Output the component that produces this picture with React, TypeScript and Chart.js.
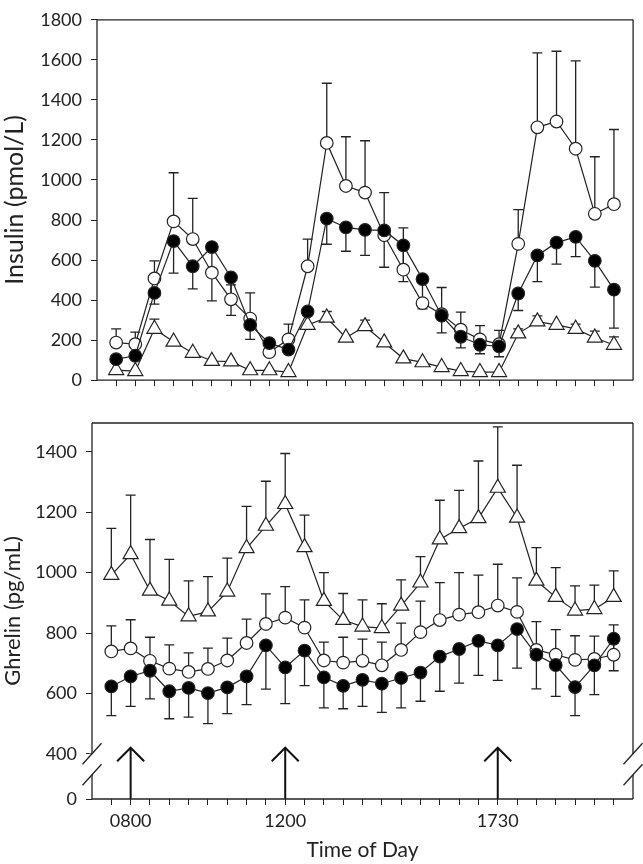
import { useEffect, useRef } from 'react';
import { Chart, registerables } from 'chart.js';

Chart.register(...registerables);

// ---------- data ----------
const times = ['0730', '0800', '0830', '0900', '0930', '1000', '1030', '1100', '1130', '1200', '1230', '1300', '1330', '1400',
  '1430', '1500', '1530', '1600', '1630', '1700', '1730', '1800', '1830', '1900', '1930', '2000', '2030'];
const labeledTimes = ['0800', '1200', '1730'];
const mealTimes = ['0800', '1200', '1730'];

const insulinFilled = [105, 122, 436, 695, 569, 665, 513, 276, 185, 153, 343, 807, 763, 751, 748, 673, 505, 322, 217, 177, 169, 433, 623, 687, 716, 596, 452];
const insulinFilledLow = [null, null, 380, 535, 456, 396, 324, 204, null, null, null, 679, 644, 623, 564, 492, 356, 236, 161, 132, 117, 348, 492, 580, 617, 465, 260];
const insulinOpen = [188, 180, 508, 793, 705, 537, 404, 308, 140, 204, 569, 1185, 970, 937, 724, 552, 385, 330, 252, 204, 180, 681, 1263, 1292, 1156, 831, 879];
const insulinOpenHigh = [256, 240, 596, 1036, 908, null, 476, 436, null, 280, 705, 1483, 1216, 1196, 937, 761, null, 463, 340, 273, 249, 852, 1635, 1643, 1595, 1116, 1252];
const insulinTri = [50, 45, 256, 192, 136, 96, 93, 49, 49, 40, 276, 312, 212, 269, 188, 108, 89, 65, 45, 40, 40, 233, 293, 276, 256, 212, 176];
const insulinTriHigh = [null, null, 305, null, null, null, null, null, null, null, null, 343, null, 300, null, null, null, null, null, null, null, 256, 321, null, 280, 245, 216];

const ghrelinFilled = [623, 656, 675, 607, 618, 601, 620, 656, 759, 686, 742, 653, 625, 645, 632, 651, 669, 722, 747, 774, 759, 813, 728, 694, 621, 693, 781];
const ghrelinFilledLow = [526, 557, 582, 516, 521, 500, 533, 563, 614, 566, 626, 552, 549, 557, 537, 552, 574, 607, 634, 660, 643, 684, 615, 590, 526, 596, 675];
const ghrelinOpen = [739, 749, 708, 682, 671, 681, 709, 767, 830, 851, 818, 709, 702, 708, 693, 744, 803, 843, 861, 869, 891, 870, 744, 728, 711, 714, 728];
const ghrelinOpenHigh = [824, 844, 786, 761, 734, 750, 783, 846, 930, 954, 910, 770, 786, 780, 770, 833, 906, 967, 1000, 992, 1028, 983, 838, 811, 791, 790, 827];
const ghrelinTri = [992, 1061, 940, 907, 855, 871, 937, 1081, 1155, 1227, 1084, 906, 843, 821, 816, 890, 967, 1110, 1147, 1180, 1281, 1182, 973, 919, 874, 879, 919];
const ghrelinTriHigh = [1147, 1257, 1110, 1044, 973, 987, 1048, 1220, 1303, 1395, 1191, 1000, 931, 910, 897, 976, 1053, 1240, 1273, 1370, 1483, 1356, 1083, 1017, 956, 959, 1006];

const insulinTicks = [0, 200, 400, 600, 800, 1000, 1200, 1400, 1600, 1800];
const ghrelinTicks = [400, 600, 800, 1000, 1200, 1400];
const ghrelinZeroAt = 250; // broken axis: where "0" sits
const ghrelinMax = 1496;
const arrowTip = 420;

// ---------- style ----------
const FONT = 'Lato, "Open Sans", sans-serif';
const INK = '#222';

const pts = (arr: (number | null)[]) => arr.map((v, i) => ({ x: i, y: v }));

function datasets(f: number[], fl: any[], o: number[], oh: any[], t: number[], th: any[]) {
  const common = { borderColor: INK, borderWidth: 1.2, pointBorderColor: INK, pointBorderWidth: 1.2, pointHoverRadius: 0 };
  return [
    { ...common, label: 'filled', data: pts(f), errEnd: fl, pointStyle: 'circle', pointRadius: 6.3, pointBackgroundColor: '#000' },
    { ...common, label: 'open', data: pts(o), errEnd: oh, pointStyle: 'circle', pointRadius: 6.3, pointBackgroundColor: '#fff' },
    { ...common, label: 'tri', data: pts(t), errEnd: th, pointStyle: 'triangle', pointRadius: 8.7, pointBackgroundColor: '#fff' },
  ];
}

const errorBars = {
  id: 'errorBars',
  beforeDatasetsDraw(chart: any) {
    const { ctx } = chart;
    const xs = chart.scales.x, ys = chart.scales.y;
    ctx.save();
    ctx.strokeStyle = INK;
    ctx.lineWidth = 1.3;
    chart.data.datasets.forEach((ds: any) => {
      const ends = ds.errEnd;
      if (!ends) return;
      ds.data.forEach((p: any, i: number) => {
        const e = ends[i];
        if (e == null || p.y == null) return;
        const px = xs.getPixelForValue(p.x), py = ys.getPixelForValue(p.y), pe = ys.getPixelForValue(e);
        ctx.beginPath();
        ctx.moveTo(px, py); ctx.lineTo(px, pe);
        ctx.moveTo(px - 5, pe); ctx.lineTo(px + 5, pe);
        ctx.stroke();
      });
    });
    ctx.restore();
  },
};

function framePlugin(breakValue: number | null, gap: number) {
  return {
    id: 'frame',
    afterDraw(chart: any) {
      const { ctx, chartArea } = chart;
      const { left, right, top, bottom } = chartArea;
      ctx.save();
      ctx.strokeStyle = INK;
      ctx.lineWidth = 1.3;
      const line = (x1: number, y1: number, x2: number, y2: number) => { ctx.beginPath(); ctx.moveTo(x1, y1); ctx.lineTo(x2, y2); ctx.stroke(); };
      line(left, top, right, top);
      line(left, bottom, right, bottom);
      if (breakValue == null) {
        line(left, top, left, bottom);
        line(right, top, right, bottom);
      } else {
        const y1 = chart.scales.y.getPixelForValue(breakValue);
        const y2 = y1 + gap;
        [left, right].forEach((xx: number) => {
          ctx.fillStyle = '#fff';
          ctx.fillRect(xx - 3, y1, 6, gap);
          line(xx, top, xx, y1);
          line(xx, y2, xx, bottom);
          line(xx - 9.5, y1 + 10.5, xx + 9.5, y1 - 10.5);
          line(xx - 9.5, y2 + 10.5, xx + 9.5, y2 - 10.5);
        });
      }
      ctx.restore();
    },
  };
}

const arrowsPlugin = {
  id: 'mealArrows',
  afterDatasetsDraw(chart: any) {
    const { ctx } = chart;
    const xs = chart.scales.x, ys = chart.scales.y;
    ctx.save();
    ctx.strokeStyle = '#111';
    ctx.lineWidth = 2;
    mealTimes.forEach((t) => {
      const px = xs.getPixelForValue(times.indexOf(t));
      const pb = ys.getPixelForValue(ghrelinZeroAt);
      const pt = ys.getPixelForValue(arrowTip);
      ctx.beginPath();
      ctx.moveTo(px, pb); ctx.lineTo(px, pt);
      ctx.moveTo(px - 13.5, pt + 13.5); ctx.lineTo(px, pt); ctx.lineTo(px + 13.5, pt + 13.5);
      ctx.stroke();
    });
    ctx.restore();
  },
};

function xScale(showLabels: boolean, height: number) {
  return {
    type: 'linear',
    min: -1,
    max: 27,
    afterBuildTicks: (s: any) => { s.ticks = times.map((_, i) => ({ value: i })); },
    afterFit: (s: any) => { s.height = height; },
    border: { display: false },
    grid: { drawOnChartArea: false, drawTicks: true, tickLength: 6, color: INK, lineWidth: 1 },
    ticks: {
      autoSkip: false,
      maxRotation: 0,
      padding: 5,
      color: INK,
      font: { family: FONT, size: 18 },
      callback: (v: number) => (showLabels && labeledTimes.includes(times[v]) ? times[v] : ''),
    },
    title: showLabels
      ? { display: true, text: 'Time of Day', color: INK, font: { family: FONT, size: 21 }, padding: { top: 0, bottom: 1 } }
      : { display: false },
  };
}

function yScale(min: number, max: number, tickVals: number[], zeroAt: number | null, title: string, titleSize: number, width: number) {
  return {
    type: 'linear',
    min,
    max,
    afterBuildTicks: (s: any) => {
      const vals = zeroAt == null ? tickVals : [zeroAt, ...tickVals];
      s.ticks = vals.map((v) => ({ value: v }));
    },
    afterFit: (s: any) => { s.width = width; },
    border: { display: false },
    grid: { drawOnChartArea: false, drawTicks: true, tickLength: 6, color: INK, lineWidth: 1 },
    ticks: {
      padding: 9,
      color: INK,
      font: { family: FONT, size: 18 },
      callback: (v: number) => (zeroAt != null && v === zeroAt ? '0' : String(v)),
    },
    title: { display: true, text: title, color: INK, font: { family: FONT, size: titleSize }, padding: { top: 0, bottom: 0 } },
  };
}

function useChart(ref: any, config: any) {
  useEffect(() => {
    const chart = new Chart(ref.current, config);
    return () => chart.destroy();
  }, []);
}

export default function App() {
  const topRef = useRef<HTMLCanvasElement>(null);
  const botRef = useRef<HTMLCanvasElement>(null);

  useChart(topRef, {
    type: 'line',
    data: { datasets: datasets(insulinFilled, insulinFilledLow, insulinOpen, insulinOpenHigh, insulinTri, insulinTriHigh) },
    options: {
      responsive: false,
      animation: false,
      events: [],
      layout: { padding: { top: 8, right: 8, bottom: 0, left: 0 } },
      plugins: { legend: { display: false }, tooltip: { enabled: false } },
      scales: {
        x: xScale(false, 16),
        y: yScale(0, 1800, insulinTicks, null, 'Insulin (pmol/L)', 25, 97),
      },
    },
    plugins: [errorBars, framePlugin(null, 0)],
  });

  useChart(botRef, {
    type: 'line',
    data: { datasets: datasets(ghrelinFilled, ghrelinFilledLow, ghrelinOpen, ghrelinOpenHigh, ghrelinTri, ghrelinTriHigh) },
    options: {
      responsive: false,
      animation: false,
      events: [],
      layout: { padding: { top: 23, right: 10, bottom: 0, left: 0 } },
      plugins: { legend: { display: false }, tooltip: { enabled: false } },
      scales: {
        x: xScale(true, 65),
        y: yScale(ghrelinZeroAt, ghrelinMax, ghrelinTicks, ghrelinZeroAt, 'Ghrelin (pg/mL)', 22, 92),
      },
    },
    plugins: [errorBars, arrowsPlugin, framePlugin(400, 21)],
  });

  return (
    <div style={{ position: 'absolute', left: 0, top: 0, width: 643, height: 864, background: '#fff' }}>
      <canvas ref={topRef} width={643} height={400} style={{ position: 'absolute', left: 0, top: 0, width: 643, height: 400 }} />
      <canvas ref={botRef} width={643} height={464} style={{ position: 'absolute', left: 0, top: 400, width: 643, height: 464 }} />
    </div>
  );
}
